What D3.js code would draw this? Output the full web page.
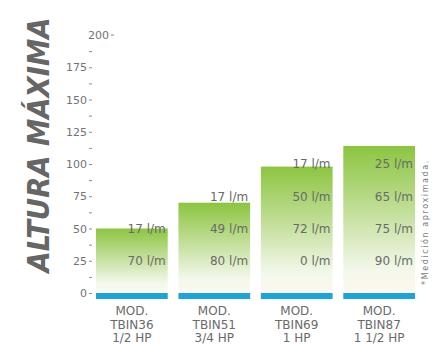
<!DOCTYPE html>
<html>
<head>
<meta charset="utf-8">
<script src="https://cdn.jsdelivr.net/npm/d3@7/dist/d3.min.js"></script>
<style>
  html, body { margin: 0; padding: 0; background: #fff; }
  svg { display: block; }
  text { font-family: "DejaVu Sans", sans-serif; }
</style>
</head>
<body>
<div id="chart"></div>
<script>
const categories = ["MOD.|TBIN36|1/2 HP", "MOD.|TBIN51|3/4 HP", "MOD.|TBIN69|1 HP", "MOD.|TBIN87|1 1/2 HP"];
const heights = [50, 70, 98, 114];
const labelLevels = [25, 50, 75, 100];
const flowLabels = [
  ["70 l/m", "17 l/m"],
  ["80 l/m", "49 l/m", "17 l/m"],
  ["0 l/m", "72 l/m", "50 l/m", "17 l/m"],
  ["90 l/m", "75 l/m", "65 l/m", "25 l/m"]
];
const yTickValues = [0, 25, 50, 75, 100, 125, 150, 175, 200];
const titleText = "ALTURA MÁXIMA";
const noteText = "*Medición aproximada.";

const W = 440, H = 352;
const svg = d3.select("#chart").append("svg").attr("width", W).attr("height", H);

const y = d3.scaleLinear().domain([0, 200]).range([293, 35]);
const x = d3.scaleBand().domain(categories).range([96, 415]).paddingInner(0.13).paddingOuter(0);

const defs = svg.append("defs");
const grad = defs.append("linearGradient").attr("id", "g").attr("x1", 0).attr("y1", 0).attr("x2", 0).attr("y2", 1);
grad.append("stop").attr("offset", "0").attr("stop-color", "#8cc540");
grad.append("stop").attr("offset", "0.45").attr("stop-color", "#c3df9a");
grad.append("stop").attr("offset", "0.85").attr("stop-color", "#f4f8ec");
grad.append("stop").attr("offset", "1").attr("stop-color", "#fdf7ee");

// Y axis
const minorTicks = d3.range(0, 200.1, 12.5);
const axis = d3.axisLeft(y).tickValues(minorTicks).tickSize(3).tickPadding(2)
  .tickFormat(d => (yTickValues.includes(d) ? d : ""));
const ag = svg.append("g").attr("transform", "translate(92,0)").call(axis);
ag.select(".domain").remove();
ag.selectAll(".tick line").attr("stroke", "#8a8a8a").attr("stroke-width", 1);
ag.selectAll(".tick text").attr("fill", "#737373").style("font-size", "11px")
  .style("font-family", "'DejaVu Sans', sans-serif");
ag.selectAll(".tick").filter(d => d === 200).attr("transform", `translate(22,${y(200)})`);

// Bars
const bars = svg.append("g");
bars.selectAll("rect.bar").data(categories).join("rect").attr("class", "bar")
  .attr("x", d => x(d)).attr("width", x.bandwidth())
  .attr("y", (d, i) => y(heights[i])).attr("height", (d, i) => y(0) - y(heights[i]))
  .attr("fill", "url(#g)");
bars.selectAll("rect.base").data(categories).join("rect").attr("class", "base")
  .attr("x", d => x(d)).attr("width", x.bandwidth())
  .attr("y", y(0)).attr("height", 6).attr("fill", "#1ba3db");

// Flow labels
categories.forEach((c, i) => {
  svg.append("g").selectAll("text").data(flowLabels[i]).join("text")
    .attr("x", x(c) + x.bandwidth() - 2)
    .attr("y", (d, j) => y(labelLevels[j]))
    .attr("dy", "0.36em")
    .attr("text-anchor", "end")
    .attr("fill", "#6a6a6a")
    .style("font-size", "12px")
    .text(d => d);
});

// Category labels
categories.forEach(c => {
  const lines = c.split("|");
  svg.append("text").attr("text-anchor", "middle").attr("fill", "#6a6a6a").style("font-size", "12px")
    .selectAll("tspan").data(lines).join("tspan")
    .attr("x", x(c) + x.bandwidth() / 2)
    .attr("y", (d, j) => 315 + j * 13.5)
    .text(d => d);
});

// Title
svg.append("text")
  .attr("transform", "translate(49,145) rotate(-90)")
  .attr("text-anchor", "middle")
  .attr("fill", "#666666")
  .style("font-family", "'DejaVu Sans Condensed', 'DejaVu Sans', sans-serif")
  .style("font-size", "30.5px").style("font-weight", "bold").style("font-style", "italic")
  .text(titleText);

// Note
svg.append("text")
  .attr("transform", "translate(428,222) rotate(-90)")
  .attr("text-anchor", "middle")
  .attr("fill", "#7a7a7a")
  .style("font-size", "8px")
  .style("letter-spacing", "1.6px")
  .text(noteText);
</script>
</body>
</html>
